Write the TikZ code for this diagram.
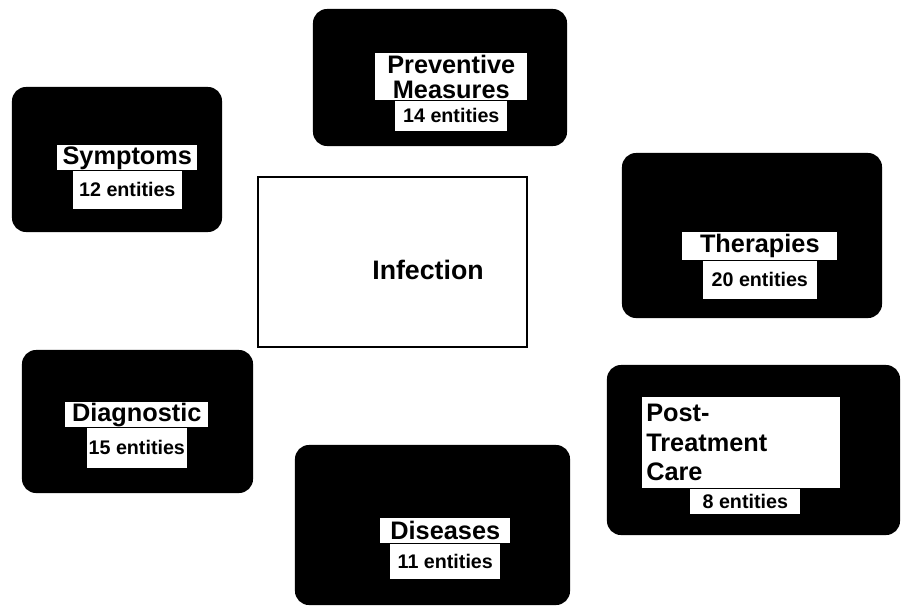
\documentclass[tikz,border=0pt]{standalone}
\usepackage{fontspec}
\setmainfont{Liberation Sans}
\usetikzlibrary{positioning}

\tikzset{
  catbox/.style={fill=black, rounded corners=10pt, inner sep=0pt},
  titlebox/.style={fill=white, inner sep=0pt, anchor=north west, align=center,
    font=\fontsize{18}{18}\selectfont\bfseries},
  countbox/.style={fill=white, inner sep=0pt, font=\fontsize{14}{15}\selectfont\bfseries}
}

\begin{document}
\begin{tikzpicture}[x=0.025cm, y=-0.025cm]
        \useasboundingbox (0,0) rectangle (901,607);

        % centre
        \node[draw, line width=1.5pt, fill=white, minimum width=6.725cm, minimum height=4.25cm] (inf) at (392.5,262) {};
        \node[font=\fontsize{19}{19}\selectfont\bfseries] (inft) at (428,270) {Infection};

        % Symptoms
        \node[catbox, minimum width=5.25cm, minimum height=3.625cm] (sym) at (117,159.5) {};
        \node[titlebox, minimum width=3.5cm, minimum height=0.625cm] (symt) at (57,145) {Symptoms};
        \node[countbox, minimum width=2.725cm, minimum height=0.95cm, below=0pt of symt] (symc) {12 entities};

        % Preventive Measures
        \node[catbox, minimum width=6.35cm, minimum height=3.425cm] (prev) at (440,77.5) {};
        \node[titlebox, minimum width=3.8cm, minimum height=1.175cm] (prevt) at (375,53) {Preventive\\Measures};
        \node[countbox, minimum width=2.8cm, minimum height=0.75cm, below=0pt of prevt] (prevc) {14 entities};

        % Therapies
        \node[catbox, minimum width=6.5cm, minimum height=4.125cm] (ther) at (752,235.5) {};
        \node[titlebox, minimum width=3.875cm, minimum height=0.7cm] (thert) at (682,232) {Therapies};
        \node[countbox, minimum width=2.85cm, minimum height=0.95cm, below=0pt of thert] (therc) {20 entities};

        % Post-Treatment Care
        \node[catbox, minimum width=7.325cm, minimum height=4.25cm] (post) at (753.5,450) {};
        \node[titlebox, minimum height=2.275cm, text width=4.75cm, inner xsep=0.1cm, align=left,
              font=\fontsize{18}{21}\selectfont\bfseries] (postt) at (642,397) {Post-\\Treatment\\Care};
        \node[countbox, minimum width=2.75cm, minimum height=0.625cm, below=0pt of postt, xshift=0.1cm] (postc) {8 entities};

        % Diseases
        \node[catbox, minimum width=6.875cm, minimum height=4cm] (dis) at (432.5,525) {};
        \node[titlebox, minimum width=3.25cm, minimum height=0.625cm] (dist) at (380,518) {Diseases};
        \node[countbox, minimum width=2.75cm, minimum height=0.875cm, below=0pt of dist] (disc) {11 entities};

        % Diagnostic
        \node[catbox, minimum width=5.775cm, minimum height=3.575cm] (diag) at (137.5,421.5) {};
        \node[titlebox, minimum width=3.575cm, minimum height=0.625cm] (diagt) at (65,402) {Diagnostic};
        \node[countbox, minimum width=2.5cm, minimum height=1cm, below=0pt of diagt] (diagc) {15 entities};
    \end{tikzpicture}
\end{document}
